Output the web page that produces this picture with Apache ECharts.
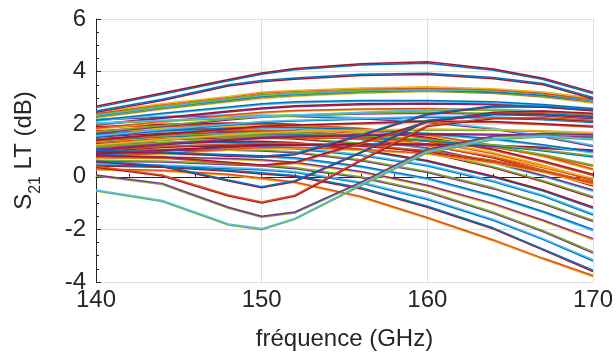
<!DOCTYPE html>
<html>
<head>
<meta charset="utf-8">
<script src="https://cdn.jsdelivr.net/npm/echarts@6/dist/echarts.min.js"></script>
<style>html,body{margin:0;padding:0;background:#fff}#c{width:616px;height:360px}</style>
</head>
<body>
<div id="c"></div>
<script>
// frequency points (GHz)
const freq = [140,144,148,150,152,156,160,164,167,170];
const xTicks = [140,150,160,170];
const yTicks = [-4,-2,0,2,4,6];

// S21 LT (dB) curves, each measured pair a/b
const A1a = [2.68,3.19,3.70,3.95,4.12,4.30,4.37,4.10,3.75,3.22];
const A1b = [2.63,3.14,3.65,3.90,4.07,4.25,4.32,4.05,3.70,3.17];
const A2a = [2.50,2.95,3.50,3.66,3.76,3.90,3.94,3.78,3.55,3.02];
const A2b = [2.45,2.90,3.45,3.61,3.71,3.85,3.89,3.73,3.50,2.97];

const U1a = [2.45,2.78,3.05,3.22,3.28,3.38,3.42,3.35,3.22,3.00];
const U1b = [2.41,2.75,3.02,3.18,3.25,3.35,3.38,3.31,3.17,2.94];
const U13a = [2.32,2.65,2.92,3.06,3.14,3.25,3.30,3.22,3.10,2.90];
const U13b = [2.28,2.61,2.88,3.02,3.10,3.21,3.26,3.18,3.06,2.86];
const U2a = [2.38,2.70,2.98,3.12,3.20,3.30,3.35,3.30,3.18,2.95];
const U2b = [2.34,2.66,2.95,3.09,3.16,3.27,3.31,3.27,3.15,2.91];
const U3a = [2.28,2.60,2.88,3.02,3.10,3.22,3.28,3.20,3.05,2.85];
const U3b = [2.24,2.57,2.84,2.98,3.06,3.18,3.24,3.17,3.02,2.81];
const U4a = [2.15,2.42,2.65,2.78,2.85,2.90,2.90,2.85,2.75,2.60];
const U4b = [2.11,2.39,2.62,2.74,2.81,2.87,2.86,2.81,2.71,2.56];
const U5a = [2.00,2.25,2.50,2.62,2.70,2.78,2.80,2.78,2.70,2.55];
const U5b = [1.96,2.22,2.46,2.58,2.66,2.74,2.77,2.74,2.66,2.51];
const U6a = [1.85,2.10,2.35,2.45,2.52,2.58,2.60,2.55,2.48,2.38];
const U6b = [1.81,2.06,2.31,2.42,2.49,2.55,2.56,2.52,2.45,2.34];
const U7a = [1.70,1.95,2.20,2.30,2.35,2.42,2.45,2.42,2.35,2.25];
const U7b = [1.66,1.91,2.16,2.26,2.32,2.39,2.42,2.38,2.31,2.21];
const U8a = [1.55,1.80,2.00,2.10,2.15,2.22,2.30,2.28,2.20,2.10];
const U8b = [1.51,1.76,1.97,2.06,2.12,2.19,2.26,2.24,2.17,2.06];
const U9a = [1.40,1.62,1.82,1.92,1.97,2.05,2.12,2.10,2.02,1.92];
const U9b = [1.36,1.59,1.78,1.88,1.94,2.01,2.09,2.06,1.98,1.88];
const U10a = [1.22,1.42,1.60,1.68,1.72,1.78,1.82,1.80,1.75,1.68];
const U10b = [1.18,1.38,1.57,1.64,1.69,1.75,1.78,1.77,1.71,1.64];
const U11a = [1.05,1.25,1.42,1.50,1.55,1.60,1.65,1.62,1.58,1.52];
const U11b = [1.01,1.22,1.38,1.47,1.51,1.57,1.61,1.59,1.54,1.48];
const U12a = [2.05,2.15,2.25,2.30,2.35,2.45,2.55,2.58,2.50,2.38];
const U12b = [2.01,2.12,2.21,2.27,2.31,2.42,2.51,2.54,2.47,2.34];

const M1a = [1.62,1.75,1.85,1.88,1.88,1.80,1.65,1.45,1.22,0.95];
const M1b = [1.58,1.71,1.82,1.84,1.85,1.76,1.61,1.41,1.18,0.90];
const M2a = [1.42,1.55,1.65,1.68,1.66,1.56,1.42,1.22,1.02,0.80];
const M2b = [1.38,1.52,1.61,1.64,1.63,1.52,1.38,1.18,0.98,0.75];
const M3a = [0.90,1.02,1.15,1.20,1.22,1.25,1.25,1.20,1.12,1.02];
const M3b = [0.86,0.98,1.11,1.17,1.19,1.21,1.21,1.16,1.08,0.98];

const E1a = [1.15,1.30,1.45,1.50,1.52,1.50,1.40,1.15,0.85,0.45];
const E1b = [1.11,1.26,1.41,1.46,1.48,1.46,1.36,1.11,0.81,0.40];
const E2a = [0.75,0.90,1.05,1.10,1.12,1.05,0.90,0.55,0.20,-0.25];
const E2b = [0.71,0.86,1.01,1.06,1.08,1.01,0.86,0.51,0.16,-0.30];
const E3a = [2.20,2.30,2.35,2.35,2.33,2.25,2.10,1.85,1.55,1.20];
const E3b = [2.16,2.26,2.31,2.31,2.29,2.21,2.06,1.81,1.51,1.15];
const E4a = [1.00,1.15,1.25,1.28,1.28,1.20,1.00,0.62,0.25,-0.20];
const E4b = [0.96,1.11,1.21,1.24,1.24,1.16,0.96,0.58,0.21,-0.25];
const E5a = [1.35,1.50,1.60,1.62,1.60,1.48,1.22,0.80,0.38,-0.05];
const E5b = [1.31,1.46,1.56,1.58,1.56,1.44,1.18,0.76,0.34,-0.10];

const R1a = [0.80,0.75,0.55,0.45,0.55,1.30,2.10,2.45,2.50,2.42];
const R1b = [0.76,0.71,0.51,0.41,0.51,1.26,2.06,2.41,2.46,2.38];
const R2a = [1.00,0.95,0.82,0.78,0.88,1.60,2.40,2.70,2.68,2.55];
const R2b = [0.96,0.91,0.78,0.74,0.84,1.56,2.36,2.66,2.64,2.51];

const C1a = [-0.50,-0.90,-1.79,-1.97,-1.58,-0.30,0.95,1.45,1.55,1.45];
const C1b = [-0.54,-0.94,-1.83,-2.01,-1.62,-0.34,0.91,1.41,1.51,1.41];
const C2a = [0.07,-0.25,-1.16,-1.50,-1.34,-0.20,1.05,1.55,1.65,1.60];
const C2b = [0.03,-0.29,-1.20,-1.54,-1.38,-0.24,1.01,1.51,1.61,1.56];
const C3a = [0.40,0.07,-0.69,-0.96,-0.70,0.65,1.95,2.25,2.25,2.15];
const C3b = [0.36,0.03,-0.73,-1.00,-0.74,0.61,1.91,2.21,2.21,2.11];
const C4a = [0.60,0.42,-0.12,-0.38,-0.15,0.95,2.15,2.40,2.40,2.30];
const C4b = [0.56,0.38,-0.16,-0.42,-0.19,0.91,2.11,2.36,2.36,2.26];

const F14a = [1.75,1.90,2.00,2.00,1.98,1.85,1.60,1.20,0.80,0.30];
const F14b = [1.71,1.86,1.96,1.97,1.94,1.81,1.56,1.16,0.76,0.25];
const F1a = [1.90,2.00,2.05,2.05,2.00,1.82,1.50,1.05,0.60,0.10];
const F1b = [1.86,1.96,2.01,2.01,1.96,1.78,1.46,1.01,0.55,0.05];
const F2a = [1.70,1.85,1.90,1.90,1.86,1.68,1.38,0.92,0.45,-0.10];
const F2b = [1.66,1.81,1.86,1.86,1.82,1.64,1.34,0.88,0.41,-0.15];
const F15a = [1.55,1.70,1.78,1.78,1.75,1.56,1.25,0.75,0.25,-0.30];
const F15b = [1.51,1.66,1.74,1.74,1.71,1.52,1.21,0.71,0.21,-0.35];
const F3a = [1.45,1.60,1.68,1.68,1.64,1.45,1.10,0.55,0.05,-0.50];
const F3b = [1.41,1.56,1.64,1.64,1.60,1.41,1.06,0.51,0.01,-0.55];
const F4a = [1.30,1.45,1.52,1.52,1.48,1.28,0.95,0.38,-0.15,-0.75];
const F4b = [1.26,1.41,1.48,1.48,1.44,1.24,0.91,0.34,-0.19,-0.80];
const F5a = [1.20,1.30,1.35,1.35,1.30,1.05,0.62,0.02,-0.50,-1.15];
const F5b = [1.16,1.26,1.31,1.31,1.26,1.01,0.58,-0.02,-0.54,-1.20];
const F6a = [1.10,1.20,1.20,1.18,1.10,0.85,0.45,-0.15,-0.70,-1.40];
const F6b = [1.06,1.16,1.16,1.14,1.06,0.81,0.41,-0.19,-0.74,-1.45];
const F7a = [0.95,1.05,1.05,1.02,0.95,0.65,0.20,-0.42,-1.00,-1.65];
const F7b = [0.91,1.01,1.01,0.98,0.91,0.61,0.16,-0.46,-1.04,-1.70];
const F8a = [0.85,0.90,0.85,0.80,0.72,0.40,-0.05,-0.72,-1.32,-2.00];
const F8b = [0.81,0.86,0.81,0.76,0.68,0.36,-0.09,-0.76,-1.36,-2.05];
const F9a = [0.72,0.75,0.70,0.65,0.55,0.20,-0.32,-1.02,-1.65,-2.35];
const F9b = [0.68,0.71,0.66,0.61,0.51,0.16,-0.36,-1.06,-1.69,-2.40];
const F10a = [0.62,0.60,0.50,0.45,0.35,0.00,-0.55,-1.35,-2.05,-2.85];
const F10b = [0.58,0.56,0.46,0.41,0.31,-0.04,-0.59,-1.39,-2.09,-2.90];
const F11a = [0.50,0.45,0.35,0.30,0.20,-0.20,-0.82,-1.62,-2.35,-3.15];
const F11b = [0.46,0.41,0.31,0.26,0.16,-0.24,-0.86,-1.66,-2.39,-3.20];
const F12a = [0.45,0.40,0.25,0.15,0.05,-0.42,-1.12,-1.95,-2.75,-3.55];
const F12b = [0.41,0.36,0.21,0.11,0.01,-0.46,-1.16,-1.99,-2.79,-3.60];
const F13a = [0.30,0.25,0.10,-0.05,-0.20,-0.75,-1.55,-2.40,-3.10,-3.75];
const F13b = [0.26,0.21,0.06,-0.09,-0.24,-0.79,-1.59,-2.44,-3.14,-3.80];

// MATLAB default color order
const palette = ['#0072BD','#D95319','#EDB120','#7E2F8E','#77AC30','#4DBEEE','#A2142F'];

// [curve a, curve b, colour index a, colour index b] — draw order
const pairs = [
  [F13a,F13b,1,2],[F12a,F12b,0,6],[F11a,F11b,5,0],[F10a,F10b,4,3],[F9a,F9b,3,2],
  [F8a,F8b,0,5],[F7a,F7b,4,3],[F6a,F6b,5,0],[F5a,F5b,6,0],[F4a,F4b,4,6],
  [F3a,F3b,3,5],[F15a,F15b,1,6],[F2a,F2b,2,1],[F1a,F1b,6,1],[F14a,F14b,1,2],
  [E4a,E4b,1,6],[E2a,E2b,1,2],[E5a,E5b,2,1],[E1a,E1b,4,1],[E3a,E3b,5,3],
  [M3a,M3b,6,3],[M2a,M2b,4,0],[M1a,M1b,0,5],
  [U11a,U11b,3,6],[U10a,U10b,2,4],[U9a,U9b,6,1],[U8a,U8b,5,0],[U7a,U7b,4,3],
  [U6a,U6b,1,2],[U5a,U5b,6,3],[U4a,U4b,0,5],[U12a,U12b,5,4],[U3a,U3b,3,2],
  [U13a,U13b,0,4],[U2a,U2b,4,5],[U1a,U1b,2,1],
  [R1a,R1b,6,1],[R2a,R2b,0,6],
  [C4a,C4b,0,6],[C3a,C3b,1,6],[C2a,C2b,3,4],[C1a,C1b,5,4],
  [A2a,A2b,0,6],[A1a,A1b,6,0]
];

const series = [];
pairs.forEach(function (p) {
  [[p[1], p[3]], [p[0], p[2]]].forEach(function (s) {
    series.push({
      type: 'line',
      data: freq.map(function (f, i) { return [f, s[0][i]]; }),
      showSymbol: false,
      symbol: 'none',
      silent: true,
      lineStyle: { width: 1.5, color: palette[s[1]] },
      emphasis: { disabled: true }
    });
  });
});

const txt = '#262626';
const font = 'Arial, "Liberation Sans", sans-serif';
const chart = echarts.init(document.getElementById('c'), null, { renderer: 'canvas' });
chart.setOption({
  animation: false,
  backgroundColor: '#fff',
  grid: { left: 96, right: 22, top: 19, bottom: 78, containLabel: false },
  xAxis: {
    type: 'value', min: xTicks[0], max: xTicks[xTicks.length - 1], interval: 10,
    name: 'fréquence (GHz)', nameLocation: 'middle', nameGap: 45,
    nameTextStyle: { fontSize: 24, color: txt, fontFamily: font },
    axisLine: { show: true, lineStyle: { color: txt, width: 1 } },
    axisTick: { show: true, inside: true, length: 5, lineStyle: { color: txt } },
    minorTick: { show: true, splitNumber: 5, length: 3, lineStyle: { color: txt } },
    axisLabel: { fontSize: 24, color: txt, fontFamily: font, margin: 6 },
    splitLine: { show: true, lineStyle: { color: '#dedede', width: 1 } }
  },
  yAxis: {
    type: 'value', min: yTicks[0], max: yTicks[yTicks.length - 1], interval: 2,
    name: '{a|S}{b|21}{a| LT (dB)}', nameLocation: 'middle', nameRotate: 90, nameGap: 52,
    nameTextStyle: {
      color: txt, fontFamily: font, fontSize: 24,
      rich: {
        a: { fontSize: 24, color: txt, fontFamily: font },
        b: { fontSize: 16, color: txt, fontFamily: font, padding: [24, 0, 0, 0] }
      }
    },
    axisLine: { show: true, lineStyle: { color: txt, width: 1 } },
    axisTick: { show: true, inside: true, length: 5, lineStyle: { color: txt } },
    minorTick: { show: true, splitNumber: 4, length: 3, lineStyle: { color: txt } },
    axisLabel: { fontSize: 24, color: txt, fontFamily: font, margin: 10 },
    splitLine: { show: true, lineStyle: { color: '#dedede', width: 1 } }
  },
  series: series
});
</script>
</body>
</html>
